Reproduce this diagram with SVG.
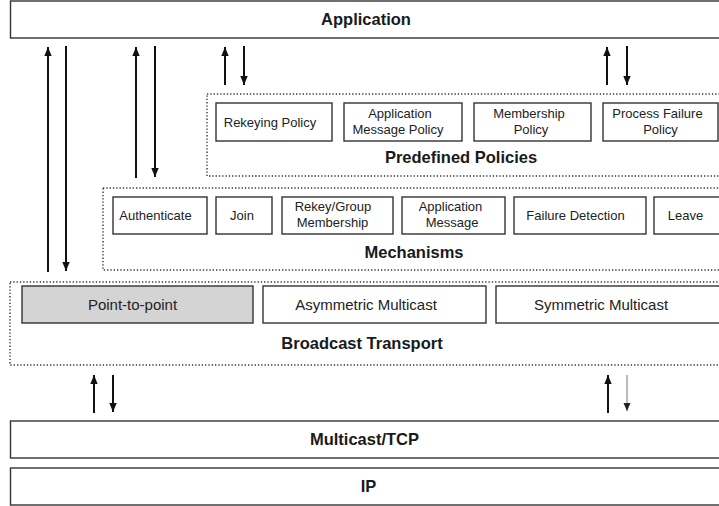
<svg xmlns="http://www.w3.org/2000/svg" width="719" height="506" viewBox="0 0 719 506">
<style>
.box{fill:#fff;stroke:#333;stroke-width:1.4}
.gray{fill:#d4d4d4}
.dot{fill:none;stroke:#333;stroke-width:1.4;stroke-dasharray:1.3 2}
.t{font-family:"Liberation Sans",Arial,sans-serif;font-size:13px;fill:#222;text-anchor:middle}
.tm{font-family:"Liberation Sans",Arial,sans-serif;font-size:15px;fill:#222;text-anchor:middle}
.h{font-family:"Liberation Sans",Arial,sans-serif;font-size:16.5px;font-weight:bold;fill:#1a1a1a;text-anchor:middle}
.a{stroke:#111;stroke-width:2;fill:none}
.thin{stroke:#777;stroke-width:1;fill:none}
</style>
<defs>
<marker id="ah" viewBox="0 0 9 8" refX="9" refY="4" markerWidth="9" markerHeight="8" markerUnits="userSpaceOnUse" orient="auto"><path d="M0,0.3 L9,4 L0,7.7 z" fill="#111"/></marker>
<marker id="ahs" viewBox="0 0 8 8" refX="8" refY="4" markerWidth="8" markerHeight="8" markerUnits="userSpaceOnUse" orient="auto"><path d="M0,0.5 L8,4 L0,7.5 z" fill="#222"/></marker>
</defs>
<rect width="719" height="506" fill="#fff"/>

<g id="application"><rect class="box" x="10.5" y="1" width="720" height="37"/><text class="h" x="366" y="25">Application</text></g>

<g id="predefined-policies"><rect class="dot" x="207" y="94" width="520" height="82"/><text class="h" x="461" y="163">Predefined Policies</text></g>
<g id="rekeying-policy"><rect class="box" x="216" y="103" width="116" height="38"/><text class="t" x="270" y="127">Rekeying Policy</text></g>
<g id="app-message-policy"><rect class="box" x="344" y="103" width="118" height="38"/><text class="t" x="400" y="118">Application</text><text class="t" x="398" y="134">Message Policy</text></g>
<g id="membership-policy"><rect class="box" x="474" y="103" width="117" height="38"/><text class="t" x="529" y="118">Membership</text><text class="t" x="531" y="134">Policy</text></g>
<g id="process-failure-policy"><rect class="box" x="603" y="103" width="115" height="38"/><text class="t" x="657.5" y="118">Process Failure</text><text class="t" x="660.5" y="134">Policy</text></g>

<g id="mechanisms"><rect class="dot" x="103" y="188" width="625" height="82"/><text class="h" x="414" y="258">Mechanisms</text></g>
<g id="authenticate"><rect class="box" x="113" y="197" width="94" height="37"/><text class="t" x="155.5" y="220">Authenticate</text></g>
<g id="join"><rect class="box" x="216" y="197" width="56" height="37"/><text class="t" x="242" y="220">Join</text></g>
<g id="rekey-group"><rect class="box" x="282" y="197" width="111" height="37"/><text class="t" x="333" y="211">Rekey/Group</text><text class="t" x="332.5" y="227">Membership</text></g>
<g id="app-message"><rect class="box" x="402" y="197" width="103" height="37"/><text class="t" x="450.5" y="211">Application</text><text class="t" x="452" y="227">Message</text></g>
<g id="failure-detection"><rect class="box" x="514" y="197" width="132" height="37"/><text class="t" x="575.5" y="220">Failure Detection</text></g>
<g id="leave"><rect class="box" x="654" y="197" width="80" height="37"/><text class="t" x="685.5" y="220">Leave</text></g>

<g id="broadcast-transport"><rect class="dot" x="10" y="282" width="720" height="83"/><text class="h" x="362" y="349">Broadcast Transport</text></g>
<g id="point-to-point"><rect class="box gray" x="22" y="286" width="231" height="37"/><text class="tm" x="132.5" y="309.5">Point-to-point</text></g>
<g id="asymmetric-multicast"><rect class="box" x="263" y="286" width="223" height="37"/><text class="tm" x="366" y="309.5">Asymmetric Multicast</text></g>
<g id="symmetric-multicast"><rect class="box" x="496" y="286" width="235" height="37"/><text class="tm" x="601" y="309.5">Symmetric Multicast</text></g>

<g id="multicast-tcp"><rect class="box" x="10.5" y="421" width="720" height="37"/><text class="h" x="364.5" y="445">Multicast/TCP</text></g>
<g id="ip"><rect class="box" x="10.5" y="468" width="720" height="37"/><text class="h" x="368.5" y="492">IP</text></g>

<g id="connectors">
<line class="a" x1="48" y1="272" x2="48" y2="47" marker-end="url(#ah)"/>
<line class="a" x1="66" y1="46" x2="66" y2="271" marker-end="url(#ah)"/>
<line class="a" x1="136" y1="178" x2="136" y2="47" marker-end="url(#ah)"/>
<line class="a" x1="155" y1="46" x2="155" y2="177" marker-end="url(#ah)"/>
<line class="a" x1="225" y1="85" x2="225" y2="47" marker-end="url(#ah)"/>
<line class="a" x1="244" y1="46" x2="244" y2="85" marker-end="url(#ah)"/>
<line class="a" x1="607" y1="85" x2="607" y2="47" marker-end="url(#ah)"/>
<line class="a" x1="627" y1="46" x2="627" y2="85" marker-end="url(#ah)"/>
<line class="a" x1="94" y1="413" x2="94" y2="375" marker-end="url(#ah)"/>
<line class="a" x1="113" y1="375" x2="113" y2="412" marker-end="url(#ah)"/>
<line class="a" x1="608" y1="413" x2="608" y2="375" marker-end="url(#ah)"/>
<line class="thin" x1="627" y1="375" x2="627" y2="411" marker-end="url(#ahs)"/>
</g>
</svg>
